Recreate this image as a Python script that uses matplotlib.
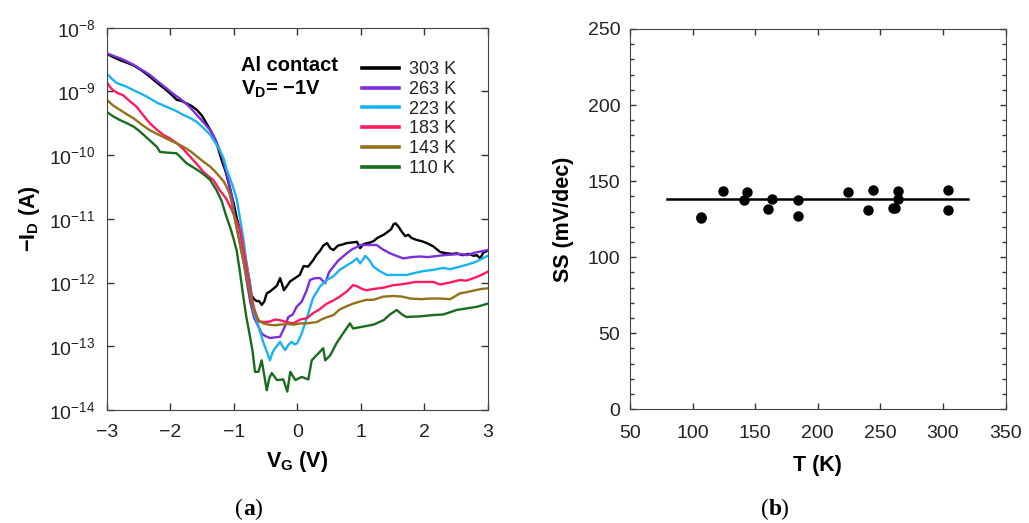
import numpy as np
import matplotlib
matplotlib.use("Agg")
import matplotlib.pyplot as plt
from matplotlib.ticker import MultipleLocator, LogLocator, NullLocator

plt.rcParams['font.family'] = ['Liberation Sans', 'DejaVu Sans']
plt.rcParams['mathtext.fontset'] = 'custom'
plt.rcParams['mathtext.rm'] = 'Liberation Sans'
plt.rcParams['mathtext.bf'] = 'Liberation Sans:bold'
plt.rcParams['mathtext.it'] = 'Liberation Sans:italic'

# ---- panel (a): -I_D vs V_G, log10 values
v_303 = [-3.0, -2.9, -2.79, -2.68, -2.58, -2.45, -2.32, -2.2, -2.06, -1.97, -1.9, -1.82, -1.74, -1.66, -1.58,
         -1.5, -1.43, -1.36, -1.29, -1.24, -1.19, -1.13, -1.08, -1.04, -1.0, -0.95, -0.9, -0.87, -0.83, -0.79,
         -0.75, -0.72, -0.68, -0.64, -0.6, -0.56, -0.52, -0.48, -0.43, -0.38, -0.32, -0.27, -0.24, -0.21,
         -0.16, -0.11, -0.05, 0.04, 0.1, 0.17, 0.25, 0.3, 0.36, 0.41, 0.47, 0.52, 0.57, 0.64, 0.72, 0.78,
         0.87, 0.94, 0.99, 1.04, 1.1, 1.15, 1.2, 1.26, 1.3, 1.36, 1.43, 1.48, 1.52, 1.55, 1.6, 1.645, 1.7,
         1.75, 1.8, 1.88, 1.96, 2.04, 2.14, 2.25, 2.35, 2.45, 2.51, 2.6, 2.7, 2.78, 2.83, 2.88, 2.93, 3.0]
logi_303 = [-8.41, -8.46, -8.51, -8.55, -8.59, -8.67, -8.77, -8.87, -8.98, -9.06, -9.13, -9.15, -9.19, -9.23,
            -9.29, -9.38, -9.50, -9.62, -9.76, -9.91, -10.08, -10.25, -10.44, -10.60, -10.76, -11.00, -11.17,
            -11.33, -11.55, -11.76, -11.98, -12.20, -12.26, -12.29, -12.29, -12.35, -12.30, -12.17, -12.14,
            -12.10, -12.05, -11.93, -12.02, -12.12, -12.05, -11.98, -11.94, -11.88, -11.74, -11.75, -11.65,
            -11.57, -11.50, -11.42, -11.38, -11.46, -11.49, -11.42, -11.40, -11.38, -11.37, -11.36, -11.46,
            -11.40, -11.38, -11.37, -11.35, -11.30, -11.28, -11.25, -11.20, -11.16, -11.08, -11.07, -11.13,
            -11.20, -11.27, -11.25, -11.30, -11.33, -11.35, -11.38, -11.43, -11.52, -11.54, -11.55, -11.54,
            -11.57, -11.55, -11.58, -11.57, -11.62, -11.53, -11.50]

v_263 = [-3.0, -2.9, -2.79, -2.68, -2.58, -2.45, -2.32, -2.2, -2.06, -1.95, -1.85, -1.74, -1.66, -1.58, -1.48,
         -1.37, -1.3, -1.24, -1.17, -1.11, -1.06, -1.02, -0.98, -0.93, -0.88, -0.84, -0.8, -0.74, -0.68,
         -0.61, -0.56, -0.5, -0.43, -0.35, -0.27, -0.2, -0.14, -0.07, -0.01, 0.07, 0.15, 0.2, 0.28, 0.36,
         0.44, 0.5, 0.57, 0.64, 0.71, 0.78, 0.86, 0.94, 0.99, 1.1, 1.25, 1.35, 1.46, 1.56, 1.67, 1.8, 1.93,
         2.05, 2.14, 2.3, 2.45, 2.56, 2.67, 2.8, 2.9, 3.0]
logi_263 = [-8.40, -8.44, -8.48, -8.53, -8.58, -8.66, -8.74, -8.84, -8.95, -9.04, -9.11, -9.20, -9.28, -9.37,
            -9.48, -9.61, -9.73, -9.87, -10.06, -10.29, -10.50, -10.70, -11.00, -11.25, -11.50, -11.70, -11.95,
            -12.30, -12.55, -12.69, -12.80, -12.84, -12.87, -12.86, -12.85, -12.70, -12.54, -12.50, -12.38,
            -12.30, -12.12, -11.96, -11.93, -11.93, -12.01, -11.84, -11.75, -11.66, -11.60, -11.54, -11.48,
            -11.44, -11.41, -11.41, -11.41, -11.48, -11.54, -11.58, -11.62, -11.60, -11.59, -11.60, -11.59,
            -11.57, -11.56, -11.55, -11.57, -11.53, -11.51, -11.49]

v_223 = [-3.0, -2.92, -2.84, -2.7, -2.58, -2.45, -2.32, -2.2, -2.06, -1.92, -1.79, -1.68, -1.58, -1.48, -1.37,
         -1.3, -1.22, -1.16, -1.11, -1.06, -1.01, -0.95, -0.9, -0.85, -0.8, -0.74, -0.69, -0.61, -0.53, -0.48,
         -0.43, -0.39, -0.35, -0.3, -0.27, -0.23, -0.19, -0.14, -0.09, -0.04, 0.0, 0.07, 0.15, 0.25, 0.36,
         0.465, 0.57, 0.67, 0.78, 0.88, 0.94, 0.99, 1.04, 1.07, 1.13, 1.2, 1.3, 1.41, 1.57, 1.725, 1.85,
         1.98, 2.14, 2.3, 2.41, 2.56, 2.67, 2.8, 2.9, 3.0]
logi_223 = [-8.72, -8.80, -8.87, -8.92, -8.98, -9.04, -9.11, -9.18, -9.24, -9.30, -9.37, -9.42, -9.48, -9.57,
            -9.68, -9.79, -9.92, -10.05, -10.23, -10.36, -10.50, -10.70, -11.00, -11.30, -11.68, -12.05, -12.43,
            -12.69, -12.95, -13.08, -13.22, -13.10, -13.03, -12.97, -12.93, -13.00, -13.06, -12.98, -12.93,
            -12.97, -12.95, -12.80, -12.56, -12.24, -12.06, -11.96, -11.90, -11.80, -11.73, -11.67, -11.62,
            -11.70, -11.63, -11.58, -11.64, -11.75, -11.82, -11.88, -11.88, -11.88, -11.85, -11.82, -11.80,
            -11.77, -11.79, -11.75, -11.72, -11.68, -11.63, -11.58]

v_183 = [-3.0, -2.95, -2.9, -2.82, -2.74, -2.64, -2.53, -2.42, -2.32, -2.21, -2.11, -2.0, -1.9, -1.8, -1.69,
         -1.58, -1.48, -1.4, -1.32, -1.22, -1.12, -1.03, -0.97, -0.9, -0.85, -0.8, -0.74, -0.68, -0.61, -0.5,
         -0.43, -0.35, -0.27, -0.17, -0.06, 0.044, 0.15, 0.25, 0.35, 0.465, 0.57, 0.67, 0.78, 0.88, 0.95,
         1.02, 1.09, 1.2, 1.36, 1.51, 1.62, 1.75, 1.86, 1.99, 2.14, 2.25, 2.4, 2.56, 2.66, 2.75, 2.88, 3.0]
logi_183 = [-8.85, -8.93, -8.98, -9.03, -9.06, -9.15, -9.24, -9.38, -9.50, -9.60, -9.68, -9.74, -9.81, -9.90,
            -10.02, -10.14, -10.26, -10.33, -10.39, -10.55, -10.68, -10.86, -11.00, -11.17, -11.45, -11.75,
            -12.12, -12.40, -12.61, -12.62, -12.61, -12.58, -12.59, -12.62, -12.64, -12.58, -12.56, -12.48,
            -12.42, -12.33, -12.28, -12.22, -12.14, -12.04, -12.06, -12.10, -12.12, -12.10, -12.08, -12.04,
            -12.03, -12.01, -11.99, -11.99, -11.99, -12.03, -12.00, -11.96, -11.97, -11.94, -11.89, -11.83]

v_143 = [-3.0, -2.9, -2.79, -2.68, -2.58, -2.45, -2.32, -2.2, -2.06, -1.93, -1.79, -1.68, -1.58, -1.48, -1.37,
         -1.29, -1.22, -1.16, -1.11, -1.06, -1.03, -0.98, -0.92, -0.87, -0.8, -0.73, -0.665, -0.6, -0.534,
         -0.45, -0.35, -0.27, -0.15, -0.05, 0.044, 0.15, 0.22, 0.307, 0.38, 0.45, 0.57, 0.67, 0.78, 0.88,
         0.98, 1.09, 1.2, 1.356, 1.51, 1.65, 1.78, 1.95, 2.1, 2.25, 2.41, 2.56, 2.67, 2.8, 2.9, 3.0]
logi_143 = [-9.13, -9.22, -9.29, -9.36, -9.42, -9.52, -9.61, -9.67, -9.74, -9.80, -9.87, -9.94, -10.02, -10.10,
            -10.18, -10.26, -10.34, -10.41, -10.50, -10.62, -10.76, -11.02, -11.30, -11.55, -11.90, -12.25,
            -12.48, -12.60, -12.64, -12.66, -12.67, -12.66, -12.65, -12.66, -12.64, -12.64, -12.63, -12.62,
            -12.58, -12.55, -12.51, -12.42, -12.37, -12.33, -12.30, -12.27, -12.27, -12.22, -12.21, -12.22,
            -12.25, -12.26, -12.25, -12.25, -12.26, -12.17, -12.15, -12.12, -12.10, -12.09]

v_110 = [-3.0, -2.9, -2.79, -2.68, -2.58, -2.5, -2.42, -2.32, -2.21, -2.16, -2.05, -1.9, -1.82, -1.74, -1.64,
         -1.53, -1.45, -1.37, -1.27, -1.19, -1.12, -1.06, -1.0, -0.953, -0.9, -0.849, -0.8, -0.743, -0.7,
         -0.665, -0.61, -0.56, -0.52, -0.48, -0.44, -0.40, -0.32, -0.22, -0.156, -0.11, -0.03, 0.07, 0.175,
         0.228, 0.333, 0.41, 0.44, 0.52, 0.62, 0.72, 0.83, 0.88, 1.04, 1.2, 1.36, 1.46, 1.567, 1.65, 1.72,
         1.93, 2.14, 2.3, 2.51, 2.7, 2.83, 3.0]
logi_110 = [-9.32, -9.39, -9.45, -9.50, -9.55, -9.61, -9.68, -9.77, -9.87, -9.95, -9.96, -9.97, -10.05, -10.13,
            -10.19, -10.26, -10.32, -10.39, -10.55, -10.72, -10.95, -11.12, -11.32, -11.50, -11.85, -12.22,
            -12.55, -12.85, -13.10, -13.40, -13.40, -13.22, -13.45, -13.69, -13.50, -13.42, -13.53, -13.52,
            -13.71, -13.40, -13.53, -13.48, -13.52, -13.22, -13.11, -13.03, -13.22, -13.14, -12.95, -12.80,
            -12.64, -12.72, -12.69, -12.66, -12.59, -12.50, -12.43, -12.50, -12.54, -12.53, -12.51, -12.50,
            -12.43, -12.40, -12.38, -12.33]

labels_a = ['303 K', '263 K', '223 K', '183 K', '143 K', '110 K']
colors_a = ['#000000', '#7a2ee0', '#1ab2f0', '#ff1a5e', '#93701a', '#196b1e']

# ---- panel (b): SS vs T
temp_k = [106.7, 107.0, 124.0, 140.8, 143.7, 160.5, 163.1, 183.9, 183.9, 223.8, 240.1, 244.3,
          260.3, 261.5, 263.7, 263.7, 303.6, 303.6]
ss_mv = [125.5, 126.5, 143.3, 137.6, 142.6, 131.5, 138.0, 137.6, 126.9, 142.6, 131.2, 144.2,
         132.1, 132.1, 143.3, 138.3, 144.0, 131.2]
fit_t = [79.3, 320.0]
fit_ss = [138.0, 138.0]

fig = plt.figure(figsize=(10.29, 5.23), dpi=100)
ax1 = fig.add_axes([0.1037, 0.216, 0.3703, 0.731])
ax2 = fig.add_axes([0.6122, 0.2174, 0.3651, 0.7272])

curves = [(v_303, logi_303), (v_263, logi_263), (v_223, logi_223),
          (v_183, logi_183), (v_143, logi_143), (v_110, logi_110)]
for (v, li), lab, c in zip(curves, labels_a, colors_a):
    ax1.plot(v, 10 ** np.array(li), color=c, lw=1.7, label=lab)

ax1.set_yscale('log')
ax1.set_xlim(-3, 3)
ax1.set_ylim(1e-14, 1e-8)
ax1.xaxis.set_major_locator(MultipleLocator(1))
ax1.yaxis.set_major_locator(LogLocator(base=10, numticks=10))
ax1.yaxis.set_minor_locator(NullLocator())
ax1.tick_params(direction='in', top=True, right=True, length=5, width=1,
                labelsize=14, colors='#333333', labelcolor='#222222')
ax1.tick_params(axis='x', pad=10)
ax1.tick_params(axis='y', pad=8)
for s in ax1.spines.values():
    s.set_color('#444444')
ax1.set_xlabel(r'$\mathbf{V_G}$ (V)', fontsize=15.5, fontweight='bold', labelpad=6)
ax1.set_ylabel(r'$\mathbf{-I_D}$ (A)', fontsize=15.5, fontweight='bold', labelpad=5)
ax1.text(0.352, 0.902, 'Al contact', transform=ax1.transAxes, fontsize=14.5,
         fontweight='bold', va='center', ha='left')
ax1.text(0.352, 0.839, r'$\mathbf{V_D}$= $\mathbf{-1V}$', transform=ax1.transAxes, fontsize=14.5,
         fontweight='bold', va='center', ha='left')
leg = ax1.legend(loc='upper left', bbox_to_anchor=(0.669, 0.912), frameon=False, fontsize=13,
                 handlelength=2.05, handletextpad=0.6, labelspacing=0.15, borderpad=0,
                 borderaxespad=0, labelcolor='#222222')
for ln in leg.get_lines():
    ln.set_linewidth(2.6)

ax2.plot(fit_t, fit_ss, color='black', lw=1.8)
ax2.plot(temp_k, ss_mv, 'o', color='black', ms=6.5)
ax2.set_xlim(50, 350)
ax2.set_ylim(0, 250)
ax2.xaxis.set_major_locator(MultipleLocator(50))
ax2.yaxis.set_major_locator(MultipleLocator(50))
ax2.yaxis.set_minor_locator(MultipleLocator(10))
ax2.tick_params(which='both', direction='in', top=True, right=True, width=1,
                labelsize=14, colors='#333333', labelcolor='#222222')
ax2.tick_params(axis='x', pad=11)
ax2.tick_params(axis='y', pad=7)
ax2.tick_params(which='major', length=4.5)
ax2.tick_params(which='minor', length=3)
for s in ax2.spines.values():
    s.set_color('#444444')
ax2.set_xlabel('T (K)', fontsize=15.5, fontweight='bold', labelpad=10)
ax2.set_ylabel('SS (mV/dec)', fontsize=15.5, fontweight='bold', labelpad=10)

# captions: "(" + bold letter + ")"
for xc, letter in [(0.242, 'a'), (0.753, 'b')]:
    fig.text(xc - 0.0055, 0.025, '(', fontsize=17, family='Liberation Serif', ha='right', va='center')
    fig.text(xc, 0.025, letter, fontsize=17, family='Liberation Serif', fontweight='bold',
             ha='center', va='center')
    fig.text(xc + 0.0055, 0.025, ')', fontsize=17, family='Liberation Serif', ha='left', va='center')

fig.savefig('out.png', dpi=100)
